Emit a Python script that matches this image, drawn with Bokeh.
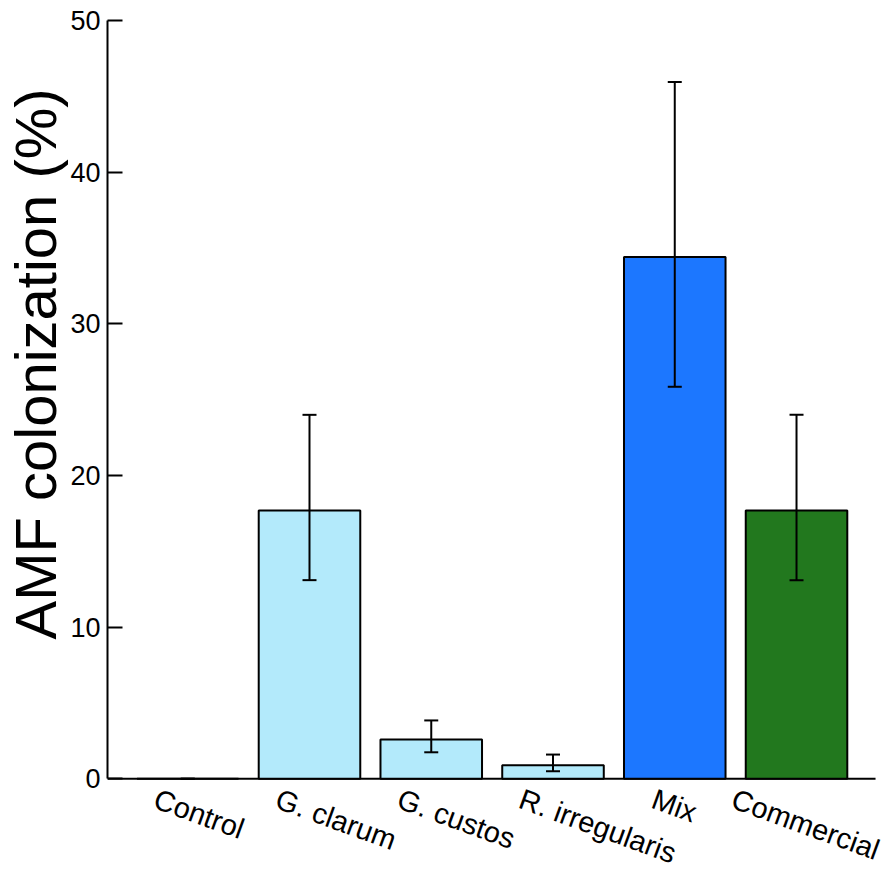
from bokeh.plotting import figure
from bokeh.models import ColumnDataSource, Range1d, Whisker, TeeHead, Title, FixedTicker
from bokeh.core.properties import value
from bokeh.embed import file_html
from bokeh.resources import INLINE

categories = ["Control", "G. clarum", "G. custos", "R. irregularis", "Mix", "Commercial"]
means = [0.0, 17.7, 2.6, 0.9, 34.4, 17.7]
err_upper = [0.0, 24.0, 3.85, 1.6, 45.95, 24.0]
err_lower = [0.0, 13.1, 1.75, 0.5, 25.85, 13.1]
colors = ["#B3EAFB", "#B3EAFB", "#B3EAFB", "#B3EAFB", "#1C77FF", "#22781E"]
y_ticks = [0, 10, 20, 30, 40, 50]
y_label = "AMF colonization (%)"

# label placement (pixels) relative to each category position
label_dx = [-27, -27, -27, -27, -16, -58]

FONT = "Liberation Sans"
xs = list(range(len(categories)))

# horizontal extent of the drawn x baseline (in category units)
X_LO, X_HI = -0.659, 5.649

src = ColumnDataSource(dict(x=xs, top=means, upper=err_upper, lower=err_lower,
                            color=colors, cat=categories, dx=label_dx))

p = figure(width=888, height=876, output_backend="svg", toolbar_location=None,
           x_axis_location=None, title=None,
           x_range=Range1d(X_LO, X_HI + 0.09), y_range=Range1d(-6.44, 50.33),
           min_border_left=106, min_border_right=2, min_border_top=15, min_border_bottom=0)
p.outline_line_color = None
p.xgrid.visible = False
p.ygrid.visible = False
p.background_fill_color = "white"
p.border_fill_color = "white"

ax = p.yaxis[0]
ax.bounds = (0, 50)
ax.ticker = FixedTicker(ticks=y_ticks)
ax.minor_tick_line_color = None
ax.major_tick_in = 15
ax.major_tick_out = 0
ax.major_tick_line_width = 2
ax.major_tick_line_color = "black"
ax.axis_line_width = 2
ax.axis_line_color = "black"
ax.major_label_text_font = FONT
ax.major_label_text_font_size = "27px"
ax.major_label_text_color = "black"
ax.major_label_standoff = 7

# x axis baseline
p.segment(x0=[X_LO], y0=[0], x1=[X_HI], y1=[0], line_color="black", line_width=2)

p.vbar(x="x", top="top", width=0.834, bottom=0, source=src, fill_color="color",
       line_color="black", line_width=2)

p.add_layout(Whisker(source=src, base="x", upper="upper", lower="lower",
                     line_color="black", line_width=2, level="overlay",
                     upper_head=TeeHead(size=14, line_width=2, line_color="black"),
                     lower_head=TeeHead(size=14, line_width=2, line_color="black")))

p.text(x="x", y=0, text="cat", source=src, angle=-0.35, x_offset="dx", y_offset=4,
       text_align="left", text_baseline="top", text_font=value(FONT),
       text_font_size="29px", text_color="black")

p.add_layout(Title(text=y_label, align="left", offset=237, vertical_align="bottom",
                   standoff=0, text_font=FONT, text_font_size="58px",
                   text_font_style="normal", text_color="black"), "left")

open("out.html", "w").write(file_html(p, INLINE))
